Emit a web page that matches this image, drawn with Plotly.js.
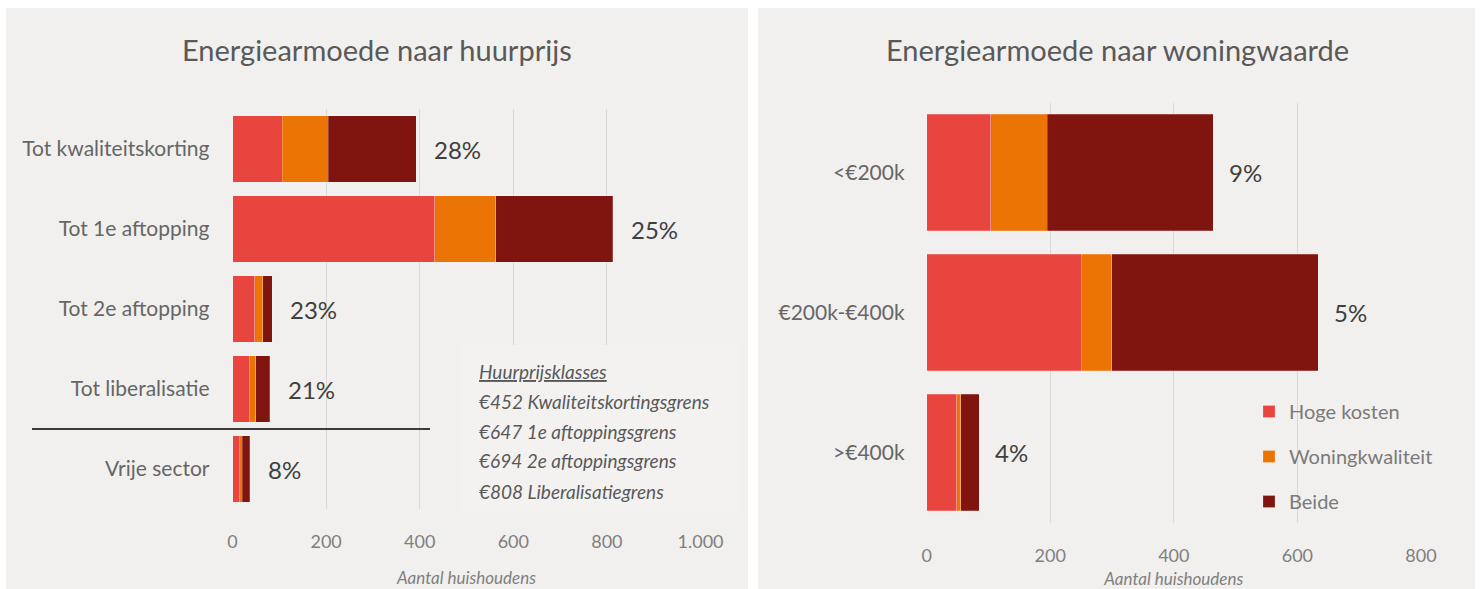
<!DOCTYPE html>
<html>
<head>
<meta charset="utf-8">
<script src="https://cdn.plot.ly/plotly-3.0.1.min.js"></script>
<style>html,body{margin:0;padding:0;background:#fff;}#chart{width:1480px;height:589px;}</style>
</head>
<body>
<div id="chart"></div>
<script>
// ---- data: left panel (huurprijs) ----
const rentCats = ["Tot kwaliteitskorting", "Tot 1e aftopping", "Tot 2e aftopping", "Tot liberalisatie", "Vrije sector"];
const rentHoge = [106, 432, 48, 37, 14];
const rentWoning = [99, 130, 17, 13, 7];
const rentBeide = [188, 250, 20, 30, 16];
const rentPct = ["28%", "25%", "23%", "21%", "8%"];

// ---- data: right panel (woningwaarde) ----
const valueCats = ["<€200k", "€200k-€400k", ">€400k"];
const valueHoge = [104, 250, 49];
const valueWoning = [91, 50, 6];
const valueBeide = [269, 334, 30];
const valuePct = ["9%", "5%", "4%"];

const seriesNames = ["Hoge kosten", "Woningkwaliteit", "Beide"];
const legendNotes = ["Huurprijsklasses", "€452 Kwaliteitskortingsgrens", "€647 1e aftoppingsgrens", "€694 2e aftoppingsgrens", "€808 Liberalisatiegrens"];
const leftTicks = [0, 200, 400, 600, 800, 1000];
const rightTicks = [0, 200, 400, 600, 800];

// ---- styles ----
const colors = ["#e8453f", "#ec7405", "#801510"];
const FONT = "Lato, 'Open Sans', sans-serif";
const W = 1480, H = 589;
const px = v => v / W;
const py = v => (H - v) / H;

function bars(cats, series, xa, ya, showlegend) {
  return series.map((vals, i) => ({
    type: "bar", orientation: "h",
    y: cats, x: vals, name: seriesNames[i],
    xaxis: xa, yaxis: ya,
    legendgroup: "g" + i, showlegend: showlegend,
    marker: {color: colors[i], line: {color: "rgba(255,255,255,0.35)", width: 0.6}},
    hoverinfo: "x+name"
  }));
}

const traces = [
  ...bars(rentCats, [rentHoge, rentWoning, rentBeide], "x", "y", false),
  ...bars(valueCats, [valueHoge, valueWoning, valueBeide], "x2", "y2", true)
];

const annotations = [];
// titles
annotations.push({xref: "paper", yref: "paper", x: px(377), y: py(49), text: "Energiearmoede naar huurprijs",
  showarrow: false, xanchor: "center", yanchor: "middle", font: {family: FONT, size: 29, color: "#595959"}});
annotations.push({xref: "paper", yref: "paper", x: px(1117), y: py(49), text: "Energiearmoede naar woningwaarde",
  showarrow: false, xanchor: "center", yanchor: "middle", font: {family: FONT, size: 29, color: "#595959"}});
// percentage labels
rentCats.forEach((c, i) => {
  const tot = rentHoge[i] + rentWoning[i] + rentBeide[i];
  annotations.push({xref: "x", yref: "y", x: tot, y: c, text: rentPct[i], showarrow: false,
    xanchor: "left", yanchor: "middle", xshift: 16, font: {family: FONT, size: 24, color: "#404040"}});
});
valueCats.forEach((c, i) => {
  const tot = valueHoge[i] + valueWoning[i] + valueBeide[i];
  annotations.push({xref: "x2", yref: "y2", x: tot, y: c, text: valuePct[i], showarrow: false,
    xanchor: "left", yanchor: "middle", xshift: 14, font: {family: FONT, size: 24, color: "#404040"}});
});
// rent class note box
legendNotes.forEach((t, i) => {
  annotations.push({xref: "paper", yref: "paper", x: px(477), y: py(371 + 30 * i),
    text: i === 0 ? "<i><u>" + t + "</u></i>" : "<i>" + t + "</i>",
    showarrow: false, xanchor: "left", yanchor: "middle", font: {family: FONT, size: 19, color: "#595959"}});
});

const shapes = [
  {type: "rect", xref: "paper", yref: "paper", x0: px(6), x1: px(748), y0: 0, y1: py(8), fillcolor: "#f1f0ee", line: {width: 0}, layer: "below"},
  {type: "rect", xref: "paper", yref: "paper", x0: px(758), x1: px(1475), y0: 0, y1: py(8), fillcolor: "#f1f0ee", line: {width: 0}, layer: "below"},
  {type: "rect", xref: "paper", yref: "paper", x0: px(460), x1: px(740), y0: py(512), y1: py(345), fillcolor: "#f3f2f1", line: {width: 0}, layer: "above"},
  {type: "line", xref: "paper", yref: "y", x0: px(32), x1: px(430), y0: 3.5, y1: 3.5, line: {color: "#000000", width: 1.3}}
];

const axisTickFont = {family: FONT, size: 18, color: "#7f7f7f"};
const catFont = {family: FONT, size: 21, color: "#666666"};

const layout = {
  width: W, height: H,
  margin: {l: 0, r: 0, t: 0, b: 0},
  paper_bgcolor: "#ffffff", plot_bgcolor: "rgba(0,0,0,0)",
  barmode: "stack",
  bargap: 0.17,
  separators: ",.",
  font: {family: FONT, color: "#595959"},
  xaxis: {domain: [px(232.5), px(700.5)], range: [0, 1000], tickvals: leftTicks, separatethousands: true,
    tickformat: ",d",
    showgrid: true, gridcolor: "#d9d9d9", gridwidth: 1.3, zeroline: false, showline: false, ticks: "",
    tickfont: axisTickFont, ticklabelstandoff: 20, fixedrange: true,
    title: {text: "<i>Aantal huishoudens</i>", font: {family: FONT, size: 17, color: "#7f7f7f"}, standoff: 21},
    anchor: "y"},
  yaxis: {domain: [py(509), py(109)], autorange: "reversed", type: "category",
    showgrid: false, zeroline: false, showline: false, ticks: "", tickfont: catFont, ticklabelstandoff: 22,
    anchor: "x"},
  xaxis2: {domain: [px(926.6), px(1421)], range: [0, 800], tickvals: rightTicks,
    showgrid: true, gridcolor: "#d9d9d9", gridwidth: 1.3, zeroline: false, showline: false, ticks: "",
    tickfont: axisTickFont, ticklabelstandoff: 20, fixedrange: true,
    title: {text: "<i>Aantal huishoudens</i>", font: {family: FONT, size: 17, color: "#7f7f7f"}, standoff: 8},
    anchor: "y2"},
  yaxis2: {domain: [py(522.5), py(102.5)], autorange: "reversed", type: "category",
    showgrid: false, zeroline: false, showline: false, ticks: "", tickfont: catFont, ticklabelstandoff: 21,
    anchor: "x2"},
  legend: {x: px(1249), y: py(392), xanchor: "left", yanchor: "top", bgcolor: "rgba(0,0,0,0)",
    traceorder: "grouped", tracegroupgap: 16,
    font: {family: FONT, size: 20, color: "#7a7a7a"}},
  annotations: annotations,
  shapes: shapes
};

Plotly.newPlot("chart", traces, layout, {displayModeBar: false, staticPlot: false});
</script>
</body>
</html>
